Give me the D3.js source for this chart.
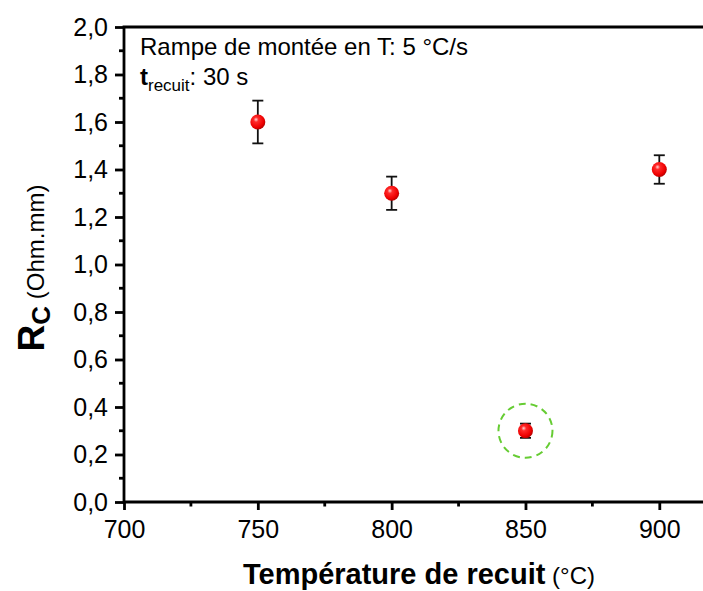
<!DOCTYPE html>
<html>
<head>
<meta charset="utf-8">
<script src="https://cdn.jsdelivr.net/npm/d3@7"></script>
<style>
html,body{margin:0;padding:0;background:#fff;}
svg{display:block;font-family:"Liberation Sans",Arial,sans-serif;}
</style>
</head>
<body>
<svg id="chart" width="703" height="591"></svg>
<script>
// ---- data ----
const temperatures = [750, 800, 850, 900];
const rcValues = [1.6, 1.3, 0.3, 1.4];
const rcErrors = [0.09, 0.07, 0.03, 0.06];
const highlighted = [850];
const xTicks = [700, 750, 800, 850, 900];
const yTicks = [0, 0.2, 0.4, 0.6, 0.8, 1.0, 1.2, 1.4, 1.6, 1.8, 2.0];

(function () {
const svg = d3.select("#chart");
const mLeft = 124, mTop = 27, mBottom = 502;
const x = d3.scaleLinear().domain([700, 900]).range([mLeft, 659.3]);
const xMax = 925;
const y = d3.scaleLinear().domain([0, 2]).range([mBottom, mTop]);

// gradient for markers
const defs = svg.append("defs");
const g = defs.append("radialGradient").attr("id", "ball")
  .attr("cx", "0.4").attr("cy", "0.38").attr("r", "0.65")
  .attr("fx", "0.38").attr("fy", "0.33");
g.append("stop").attr("offset", "0").attr("stop-color", "#ffd6d6");
g.append("stop").attr("offset", "0.25").attr("stop-color", "#ff2a2a");
g.append("stop").attr("offset", "0.75").attr("stop-color", "#ee0000");
g.append("stop").attr("offset", "1").attr("stop-color", "#b00000");

const axisW = 2.8;

// x axis
const xAxis = d3.axisBottom(x).tickValues(xTicks).tickSize(8).tickPadding(10)
  .tickFormat(d3.format("d"));
const xg = svg.append("g").attr("transform", `translate(0,${mBottom})`).call(xAxis);
xg.select(".domain").remove();
xg.selectAll(".tick line").attr("stroke", "#000").attr("stroke-width", axisW);
xg.selectAll(".tick text").attr("font-size", 25).attr("fill", "#000")
  .attr("font-family", "Liberation Sans, Arial, sans-serif");
// minor x ticks
const xMinor = d3.range(725, xMax, 50);
svg.append("g").selectAll("line").data(xMinor).join("line")
  .attr("x1", d => x(d)).attr("x2", d => x(d))
  .attr("y1", mBottom).attr("y2", mBottom + 4.5)
  .attr("stroke", "#000").attr("stroke-width", axisW);

// y axis
const fmt = d => d3.format(".1f")(d).replace(".", ",");
const yAxis = d3.axisLeft(y).tickValues(yTicks).tickSize(9).tickPadding(7).tickFormat(fmt);
const yg = svg.append("g").attr("transform", `translate(${mLeft},0)`).call(yAxis);
yg.select(".domain").remove();
yg.selectAll(".tick line").attr("stroke", "#000").attr("stroke-width", axisW);
yg.selectAll(".tick text").attr("font-size", 25).attr("fill", "#000")
  .attr("font-family", "Liberation Sans, Arial, sans-serif");
const yMinor = d3.range(0.1, 2, 0.2);
svg.append("g").selectAll("line").data(yMinor).join("line")
  .attr("x1", mLeft).attr("x2", mLeft - 5)
  .attr("y1", d => y(d)).attr("y2", d => y(d))
  .attr("stroke", "#000").attr("stroke-width", axisW);

// frame
svg.append("path")
  .attr("d", `M${x(xMax)},${mTop}H${mLeft}V${mBottom}H${x(xMax)}`)
  .attr("fill", "none").attr("stroke", "#000").attr("stroke-width", axisW)
  .attr("stroke-linecap", "square");

// data
const pts = temperatures.map((t, i) => ({t, v: rcValues[i], e: rcErrors[i]}));
const eg = svg.append("g").attr("stroke", "#111").attr("stroke-width", 1.8);
pts.forEach(p => {
  const cx = x(p.t), y1 = y(p.v + p.e), y2 = y(p.v - p.e);
  eg.append("line").attr("x1", cx).attr("x2", cx).attr("y1", y1).attr("y2", y2);
  eg.append("line").attr("x1", cx - 5.5).attr("x2", cx + 5.5).attr("y1", y1).attr("y2", y1);
  eg.append("line").attr("x1", cx - 5.5).attr("x2", cx + 5.5).attr("y1", y2).attr("y2", y2);
});
svg.append("g").selectAll("circle").data(pts).join("circle")
  .attr("cx", d => x(d.t)).attr("cy", d => y(d.v)).attr("r", 7.5)
  .attr("fill", "url(#ball)");

// highlight circle
svg.append("g").selectAll("circle").data(pts.filter(p => highlighted.includes(p.t))).join("circle")
  .attr("cx", d => x(d.t)).attr("cy", d => y(d.v)).attr("r", 27)
  .attr("fill", "none").attr("stroke", "#66cc33").attr("stroke-width", 2)
  .attr("stroke-dasharray", "7,5");

// annotation
svg.append("text").attr("x", 140).attr("y", 55).attr("font-size", 24).attr("fill", "#000")
  .text("Rampe de montée en T: 5 °C/s");
const t2 = svg.append("text").attr("x", 140).attr("y", 85).attr("font-size", 24).attr("fill", "#000");
t2.append("tspan").attr("font-weight", "bold").text("t");
t2.append("tspan").attr("font-size", 17).attr("dy", 6).text("recuit");
t2.append("tspan").attr("dy", -6).text(": 30 s");

// x title
const xt = svg.append("text").attr("x", 419).attr("y", 584).attr("text-anchor", "middle").attr("fill", "#000");
xt.append("tspan").attr("font-size", 29).attr("font-weight", "bold").text("Température de recuit");
xt.append("tspan").attr("font-size", 24).text(" (°C)");

// y title
const yt = svg.append("text").attr("transform", "translate(44,268) rotate(-90)")
  .attr("text-anchor", "middle").attr("fill", "#000");
yt.append("tspan").attr("font-size", 37).attr("font-weight", "bold").text("R");
yt.append("tspan").attr("font-size", 26).attr("font-weight", "bold").attr("dy", 6).text("C");
yt.append("tspan").attr("font-size", 24).attr("dy", -6).text(" (Ohm.mm)");
})();
</script>
</body>
</html>
